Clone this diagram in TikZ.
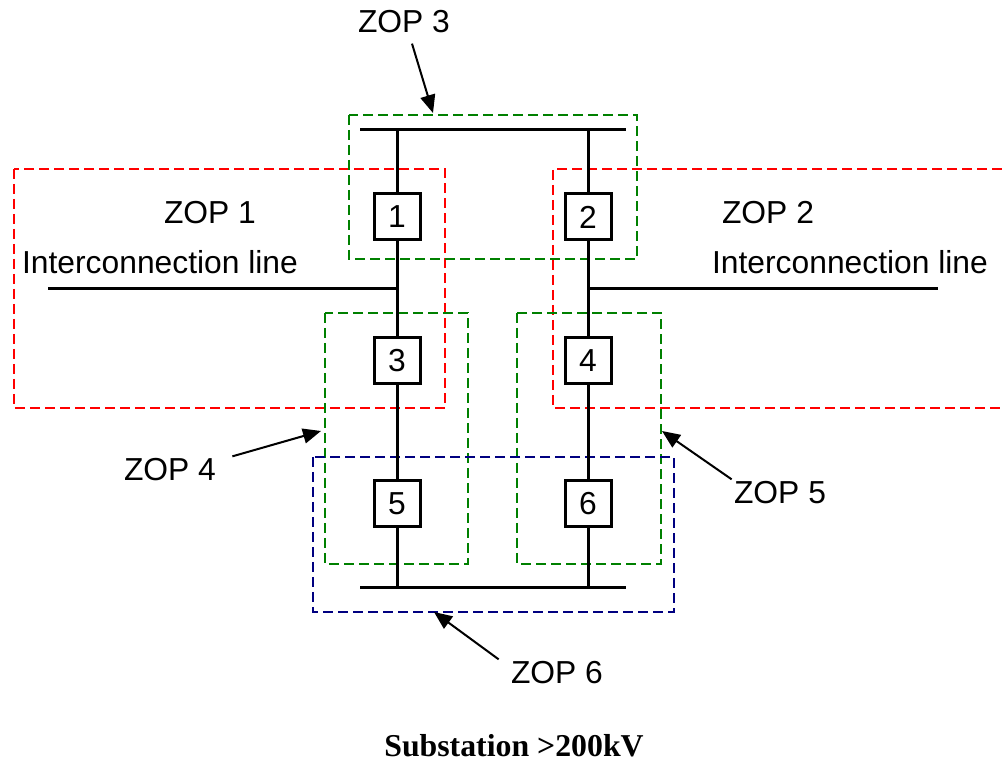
\documentclass[tikz,border=0pt]{standalone}
\usepackage{fontspec}
\setmainfont{Liberation Sans}
\newfontfamily\capfont{Liberation Serif}
\usetikzlibrary{positioning,arrows.meta}
\definecolor{zopred}{RGB}{255,0,0}
\definecolor{zopgreen}{RGB}{0,128,0}
\definecolor{zopblue}{RGB}{0,0,128}

\begin{document}
\begin{tikzpicture}[x=0.5pt, y=-0.5pt, font=\fontsize{15.9}{19}\selectfont,
            brk/.style = {draw, line width=1.5pt, minimum size=23pt, inner sep=0pt, fill=white},
            wire/.style = {line width=1.5pt},
            zop/.style = {line width=0.75pt, dash pattern=on 5pt off 2.5pt},
            tag/.style = {inner sep=1pt},
            ptr/.style = {line width=1pt, -{Triangle[length=9pt,width=7.5pt]}}]
            \useasboundingbox (0,0) rectangle (1002,769);
            % zones
            \draw[zop, zopred] (14,169) rectangle (445,408);
            \draw[zop, zopred] (1002,169) -| (553,408) -- (1002,408);
            \draw[zop, zopgreen] (349,115) rectangle (637,259);
            \draw[zop, zopgreen] (325,313) rectangle (468,564);
            \draw[zop, zopgreen] (517,313) rectangle (661,564);
            \draw[zop, zopblue] (313,457) rectangle (674,612);
            % buses
            \coordinate (tl) at (360,130); \coordinate (tr) at (626,130);
            \coordinate (bl) at (360,588); \coordinate (br) at (626,588);
            \coordinate (t1) at (397,130); \coordinate (t2) at (588,130);
            \coordinate (d1) at (397,588); \coordinate (d2) at (588,588);
            \coordinate (j1) at (397,289); \coordinate (j2) at (588,289);
            \coordinate (l1) at (48,289);  \coordinate (l2) at (938,289);
            \draw[wire] (tl) -- (tr);
            \draw[wire] (bl) -- (br);
            \draw[wire] (l1) -- (j1);
            \draw[wire] (j2) -- (l2);
            % breakers
            \node[brk] (b1) at (397,217) {1};
            \node[brk] (b2) at (588,217) {2};
            \node[brk] (b3) at (397,361) {3};
            \node[brk] (b4) at (588,361) {4};
            \node[brk] (b5) at (397,504) {5};
            \node[brk] (b6) at (588,504) {6};
            \draw[wire] (t1) -- (b1) -- (b3) -- (b5) -- (d1);
            \draw[wire] (t2) -- (b2) -- (b4) -- (b6) -- (d2);
            % labels
            \node[tag] (z3) at (404,22) {ZOP 3};
            \node[tag] (z1) at (210,213) {ZOP 1};
            \node[tag] (il1) at (160,262) {Interconnection line};
            \node[tag] (z2) at (768,213) {ZOP 2};
            \node[tag] (il2) at (850,262) {Interconnection line};
            \node[tag] (z4) at (170,470) {ZOP 4};
            \node[tag] (z5) at (780,493) {ZOP 5};
            \node[tag] (z6) at (557,673) {ZOP 6};
            \node (cap) at (514,746) {\capfont\bfseries Substation >200kV};
            % pointers
            \coordinate (a3) at (433,113);
            \coordinate (a4) at (321,431);
            \coordinate (a5) at (662,431);
            \coordinate (a6) at (434,612);
            \draw[ptr] ([xshift=4pt,yshift=-4pt]z3.south) -- (a3);
            \draw[ptr] ([xshift=7pt]z4.north east) -- (a4);
            \draw[ptr] (z5.north west) -- (a5);
            \draw[ptr] ([xshift=-5pt]z6.north west) -- (a6);
        \end{tikzpicture}
\end{document}
